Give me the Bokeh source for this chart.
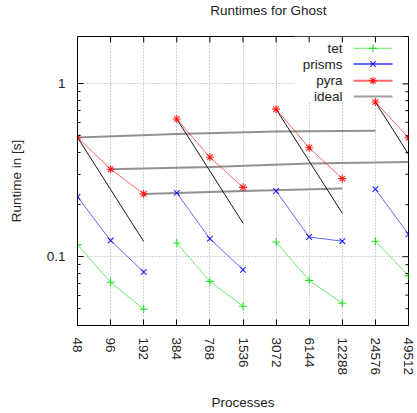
import math
from bokeh.plotting import figure
from bokeh.layouts import column
from bokeh.models import FixedTicker, Range1d, Label, BoxAnnotation
from bokeh.embed import file_html
from bokeh.resources import INLINE

# ---------------- data ----------------
title_text = "Runtimes for Ghost"
proc_labels = ["48", "96", "192", "384", "768", "1536", "3072", "6144",
               "12288", "24576", "49512"]
groups = [[0, 1, 2], [3, 4, 5], [6, 7, 8], [9, 10]]

tet = [0.1175, 0.0711, 0.0497, 0.120, 0.072, 0.0517, 0.1217, 0.073, 0.0538,
       0.123, 0.0777]
prisms = [0.222, 0.124, 0.0816, 0.234, 0.127, 0.084, 0.240, 0.130, 0.123,
          0.246, 0.135]
pyra = [0.490, 0.321, 0.231, 0.626, 0.376, 0.252, 0.714, 0.427, 0.283,
        0.785, 0.488]
ideal_strong = [0.490, 0.245, 0.1225, 0.626, 0.313, 0.1565, 0.714, 0.357,
                0.1785, 0.785, 0.392]

weak_x = [[0, 3, 6, 9], [1, 4, 7, 10], [2, 5, 8]]
weak_y = [[0.490, 0.513, 0.530, 0.535],
          [0.321, 0.331, 0.346, 0.353],
          [0.231, 0.240, 0.248]]

YMIN, YMAX = 0.04, 1.88
FONT = "Liberation Sans"
FS = "13.5px"
TXT = "#222222"

W = 417
TITLE_H = 35
MAIN_H = 378

# ---------------- title strip ----------------
t = figure(width=W, height=TITLE_H, x_range=Range1d(0, W),
           y_range=Range1d(0, TITLE_H), output_backend="svg",
           toolbar_location=None, min_border=0)
t.axis.visible = False
t.grid.visible = False
t.outline_line_color = None
t.background_fill_color = "white"
t.border_fill_color = "white"
t.add_layout(Label(x=240.5, y=TITLE_H - 10, text=title_text,
                   text_align="center", text_baseline="middle",
                   text_font=FONT, text_font_size=FS, text_color=TXT))

# ---------------- main plot ----------------
p = figure(width=W, height=MAIN_H, y_axis_type="log",
           x_range=Range1d(0, 10), y_range=Range1d(YMIN, YMAX),
           output_backend="svg", toolbar_location=None,
           min_border_left=77, min_border_right=9, min_border_top=1,
           min_border_bottom=83)
p.background_fill_color = "white"
p.border_fill_color = "white"
p.outline_line_color = "black"
p.outline_line_width = 1

xticks = list(range(len(proc_labels)))
p.xaxis.ticker = FixedTicker(ticks=xticks, minor_ticks=[])
p.xaxis.major_label_overrides = {i: s for i, s in enumerate(proc_labels)}
p.xaxis.major_label_orientation = -math.pi / 2
p.xaxis.axis_label = "Processes"

ymajor = [0.1, 1.0]
yminor = [m * d for d in (0.01, 0.1, 1.0) for m in range(2, 10)]
yminor = [v for v in yminor if YMIN <= v <= YMAX]
p.yaxis.ticker = FixedTicker(ticks=ymajor, minor_ticks=yminor)
p.yaxis.major_label_overrides = {0.1: "0.1", 1.0: "1"}
p.yaxis.axis_label = "Runtime in [s]"

for ax in (p.xaxis[0], p.yaxis[0]):
    ax.major_tick_in = 6
    ax.major_tick_out = 0
    ax.minor_tick_in = 3
    ax.minor_tick_out = 0
    ax.axis_line_color = "black"
    ax.major_tick_line_color = "black"
    ax.minor_tick_line_color = "black"
    ax.major_label_text_font = FONT
    ax.major_label_text_font_size = FS
    ax.major_label_text_color = TXT
    ax.axis_label_text_font = FONT
    ax.axis_label_text_font_size = FS
    ax.axis_label_text_font_style = "normal"
    ax.axis_label_text_color = TXT
    ax.major_label_standoff = 12
p.xaxis.axis_label_standoff = 17
p.yaxis.axis_label_standoff = 20

# grid
p.xgrid.ticker = FixedTicker(ticks=xticks, minor_ticks=[])
p.ygrid.ticker = FixedTicker(ticks=ymajor, minor_ticks=[])
for g in (p.xgrid[0], p.ygrid[0]):
    g.grid_line_color = "#a8a8a8"
    g.grid_line_dash = "1 2"
    g.grid_line_width = 1

# helpers: frame pixel offsets -> data coordinates
FRAME_W, FRAME_H = 331.0, 294.0
lx0, lx1 = 0.0, 10.0
ly0, ly1 = math.log10(YMIN), math.log10(YMAX)


def xd(px):
    return lx0 + px / FRAME_W * (lx1 - lx0)


def yd(px):
    return 10 ** (ly1 - px / FRAME_H * (ly1 - ly0))


# legend background (covers grid)
box = BoxAnnotation(left=xd(217), right=xd(326), top=YMAX, bottom=yd(67),
                    fill_color="white", fill_alpha=1.0, line_alpha=0,
                    level="underlay")
p.add_layout(box)

# ---------------- series ----------------
series = [("tet", tet, "#00dd00", "cross"),
          ("prisms", prisms, "#0000ff", "x"),
          ("pyra", pyra, "#ff0000", "asterisk")]

for gx, gy in zip(weak_x, weak_y):
    p.line(gx, gy, line_color="#858585", line_width=2, line_alpha=0.9)

for grp in groups:
    p.line(grp, [ideal_strong[i] for i in grp], line_color="black",
           line_width=1, line_alpha=0.9)

for name, vals, col, mk in series:
    for grp in groups:
        p.line(grp, [vals[i] for i in grp], line_color=col, line_width=1,
               line_alpha=0.6)
    p.scatter(xticks, vals, marker=mk, size=8, line_color=col,
              line_width=1.1, line_alpha=0.85)

# mirror ticks (top and right borders)
n = len(xticks)
p.segment(x0=xticks, y0=[YMAX] * n, x1=xticks, y1=[yd(6)] * n,
          line_color="black", line_width=1)
p.segment(x0=[lx1] * len(ymajor), y0=ymajor, x1=[xd(FRAME_W - 6)] * len(ymajor),
          y1=ymajor, line_color="black", line_width=1)
p.segment(x0=[lx1] * len(yminor), y0=yminor, x1=[xd(FRAME_W - 3)] * len(yminor),
          y1=yminor, line_color="black", line_width=1)

# ---------------- legend ----------------
rows = [("tet", "#00dd00", "cross", 1),
        ("prisms", "#0000ff", "x", 2),
        ("pyra", "#ff0000", "asterisk", 2),
        ("ideal", "#606060", None, 2)]
row_px = [12, 28, 45, 61]
for (name, col, mk, lw), rp in zip(rows, row_px):
    yy = yd(rp)
    p.add_layout(Label(x=xd(265), y=yy, text=name, text_align="right",
                       text_baseline="middle", text_font=FONT,
                       text_font_size=FS, text_color=TXT))
    p.line([xd(276), xd(315)], [yy, yy], line_color=col, line_width=lw,
           line_alpha=0.6)
    if mk:
        p.scatter([xd(295.5)], [yy], marker=mk, size=8, line_color=col,
                  line_width=1.1, line_alpha=0.85)

layout = column(t, p, spacing=0)
open("out.html", "w").write(file_html(layout, INLINE))
